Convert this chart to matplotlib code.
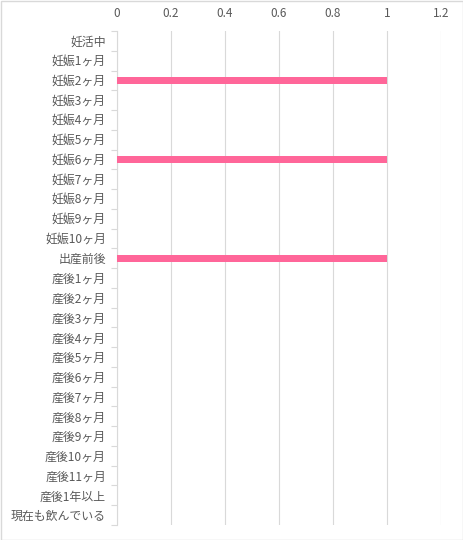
import matplotlib
matplotlib.use("Agg")
import matplotlib.pyplot as plt
import numpy as np

categories = ["妊活中", "妊娠1ヶ月", "妊娠2ヶ月", "妊娠3ヶ月", "妊娠4ヶ月", "妊娠5ヶ月",
              "妊娠6ヶ月", "妊娠7ヶ月", "妊娠8ヶ月", "妊娠9ヶ月", "妊娠10ヶ月", "出産前後",
              "産後1ヶ月", "産後2ヶ月", "産後3ヶ月", "産後4ヶ月", "産後5ヶ月", "産後6ヶ月",
              "産後7ヶ月", "産後8ヶ月", "産後9ヶ月", "産後10ヶ月", "産後11ヶ月", "産後1年以上",
              "現在も飲んでいる"]
values = [0, 0, 1, 0, 0, 0, 1, 0, 0, 0, 0, 1, 0, 0, 0, 0, 0, 0, 0, 0, 0, 0, 0, 0, 0]
xticks = [0, 0.2, 0.4, 0.6, 0.8, 1.0, 1.2]
xticklabels = ["0", "0.2", "0.4", "0.6", "0.8", "1", "1.2"]

plt.rcParams['font.family'] = ['Noto Sans CJK JP', 'DejaVu Sans']

fig = plt.figure(figsize=(4.64, 5.4), dpi=100)
ax = fig.add_axes([117/464, 1 - 525/540, (441 - 117)/464, (525 - 31)/540])

n = len(categories)
y = np.arange(n)
ax.barh(y, values, height=0.35, color="#FF6699", zorder=3)

ax.set_ylim(n - 0.5, -0.5)
ax.set_xlim(0, 1.2)
ax.xaxis.tick_top()
ax.set_xticks(xticks)
ax.set_xticklabels(xticklabels, fontsize=8.5, color="#595959")
ax.tick_params(axis='x', length=0, pad=8)

ax.set_yticks(y)
ax.set_yticklabels(categories, fontsize=8.6, color="#595959")
ax.tick_params(axis='y', which='major', length=0, pad=8)
ax.set_yticks(np.arange(n + 1) - 0.5, minor=True)
ax.tick_params(axis='y', which='minor', length=4, color="#D9D9D9", width=0.8)

ax.grid(axis='x', color="#D9D9D9", linewidth=0.8, zorder=0)
for s in ["top", "right", "bottom"]:
    ax.spines[s].set_visible(False)
ax.spines["left"].set_color("#D9D9D9")
ax.spines["left"].set_linewidth(0.8)

fig.patches.append(plt.Rectangle((0.5/464, 0.5/540), 1 - 1.5/464, 1 - 1.5/540,
                                 transform=fig.transFigure, fill=False,
                                 edgecolor="#D9D9D9", linewidth=1))

fig.savefig("out.png", dpi=100)
